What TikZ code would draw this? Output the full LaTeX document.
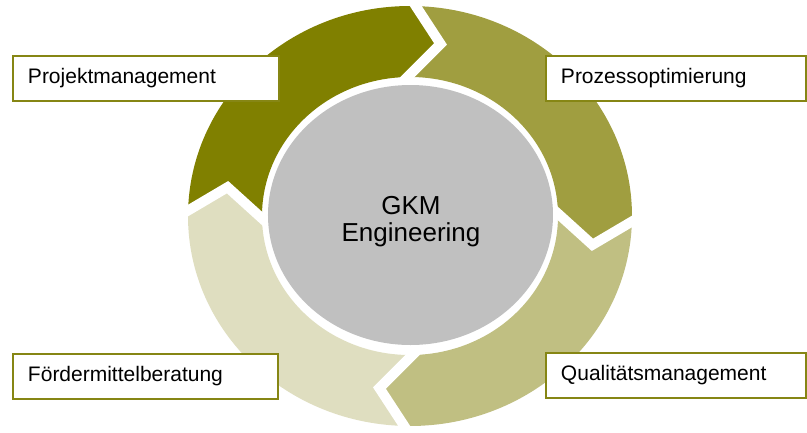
\documentclass[tikz,border=0pt]{standalone}
\usepackage{fontspec}
\setmainfont{Liberation Sans}
\usetikzlibrary{shapes.geometric}
\definecolor{cdark}{RGB}{128,128,0}
\definecolor{cmid}{RGB}{160,158,64}
\definecolor{clight}{RGB}{192,191,130}
\definecolor{cpale}{RGB}{223,222,192}
\definecolor{chub}{RGB}{192,192,192}
\definecolor{cborder}{RGB}{134,134,20}
\tikzset{
  gap/.style={draw=white, line width=10pt, line join=miter, shorten <=-12pt, shorten >=-12pt},
  labelbox/.style={draw=cborder, line width=2pt, fill=white, anchor=north west,
    minimum height=45pt, inner xsep=15pt, inner ysep=0pt, align=left,
    font=\fontsize{21}{25}\selectfont, text=black},
  outarc/.style={x radius=222, y radius=210},
  inarc/.style={x radius=148, y radius=139}
}
\begin{document}
\begin{tikzpicture}[x=1pt, y=1pt]
\useasboundingbox (-410,-216) rectangle (397,216);
% boundary points of the four arrow segments
\foreach \t/\n in {90/a,0/b,-90/c,-180/d} {
  \coordinate (O\n) at ({222*cos(\t-1.5)},{210*sin(\t-1.5)});
  \coordinate (T\n) at ({185*cos(\t-9.5)},{174.5*sin(\t-9.5)});
  \coordinate (I\n) at ({148*cos(\t+1)},{139*sin(\t+1)});
}
% segments (clockwise arrows)
\fill[cdark] (Od) arc[outarc, start angle=178.5, end angle=88.5] -- (Ta) -- (Ia)
  arc[inarc, start angle=91, end angle=181] -- (Td) -- cycle;
\fill[cmid] (Oa) arc[outarc, start angle=88.5, end angle=-1.5] -- (Tb) -- (Ib)
  arc[inarc, start angle=1, end angle=91] -- (Ta) -- cycle;
\fill[clight] (Ob) arc[outarc, start angle=-1.5, end angle=-91.5] -- (Tc) -- (Ic)
  arc[inarc, start angle=-89, end angle=1] -- (Tb) -- cycle;
\fill[cpale] (Oc) arc[outarc, start angle=-91.5, end angle=-181.5] -- (Td) -- (Id)
  arc[inarc, start angle=-179, end angle=-89] -- (Tc) -- cycle;
% white gaps
\foreach \n in {a,b,c,d} {
  \draw[gap] (O\n) -- (T\n) -- (I\n);
}
% hub
\node[ellipse, fill=chub, minimum width=285pt, minimum height=260pt, inner sep=0pt] (hub) at (0.5,1) {};
\node[align=center, inner sep=0pt, font=\fontsize{26}{27}\selectfont] (hubtext) at (1,-6) {GKM\\Engineering};
% labels
\node[labelbox, text width=236pt] (pm) at (-398,161) {Projektmanagement};
\node[labelbox, text width=230pt] (po) at (135,161) {Prozessoptimierung};
\node[labelbox, text width=235pt] (fm) at (-398,-137) {Fördermittelberatung};
\node[labelbox, text width=230pt] (qm) at (135,-136) {Qualitätsmanagement};
\end{tikzpicture}
\end{document}
